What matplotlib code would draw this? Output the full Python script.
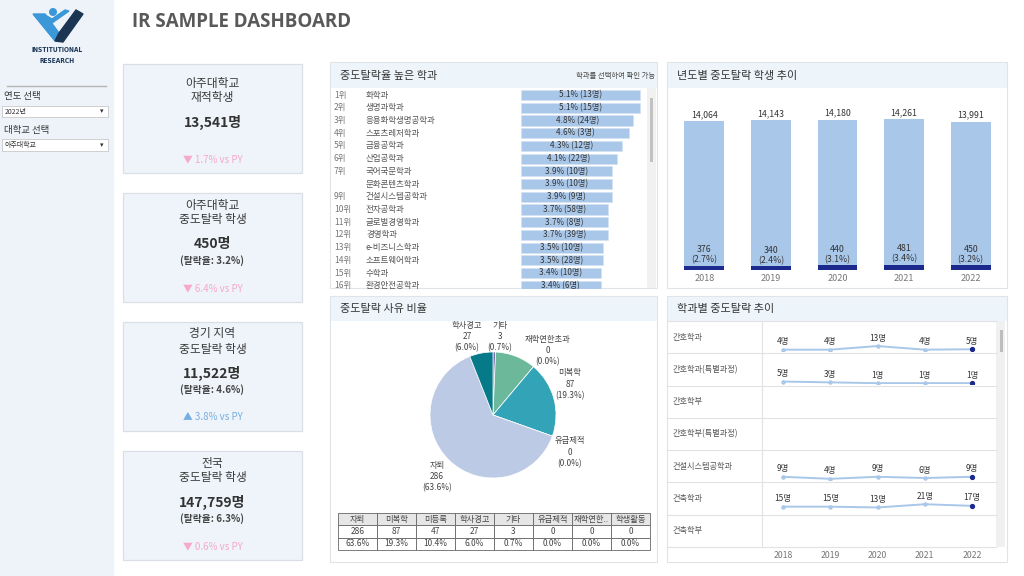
import matplotlib
matplotlib.use('Agg')
import matplotlib.pyplot as plt
from matplotlib.patches import Rectangle, Polygon, Circle

plt.rcParams['font.family'] = ['Noto Sans CJK KR', 'DejaVu Sans']

W, H = 1024, 576

# ---------------- data ----------------
kpi_titles = ['아주대학교\n재적학생', '아주대학교\n중도탈락 학생', '경기 지역\n중도탈락 학생', '전국\n중도탈락 학생']
kpi_values = ['13,541명', '450명', '11,522명', '147,759명']
kpi_rates = [None, '(탈락율: 3.2%)', '(탈락율: 4.6%)', '(탈락율: 6.3%)']
kpi_change = [-1.7, -6.4, 3.8, -0.6]

rank_labels = ['1위', '2위', '3위', '4위', '5위', '6위', '7위', '', '9위', '10위', '11위', '12위',
               '13위', '14위', '15위', '16위']
dept_names = ['화학과', '생명과학과', '응용화학생명공학과', '스포츠레저학과', '금융공학과', '산업공학과',
              '국어국문학과', '문화콘텐츠학과', '건설시스템공학과', '전자공학과', '글로벌경영학과', '경영학과',
              'e-비즈니스학과', '소프트웨어학과', '수학과', '환경안전공학과']
dept_rates = [5.1, 5.1, 4.8, 4.6, 4.3, 4.1, 3.9, 3.9, 3.9, 3.7, 3.7, 3.7, 3.5, 3.5, 3.4, 3.4]
dept_counts = [13, 15, 24, 3, 12, 22, 10, 10, 9, 58, 8, 39, 10, 28, 10, 6]

years = [2018, 2019, 2020, 2021, 2022]
total_students = [14064, 14143, 14180, 14261, 13991]
dropouts = [376, 340, 440, 481, 450]

reasons = ['자퇴', '미복학', '미등록', '학사경고', '기타', '유급제적', '재학연한초과', '학생활동']
reason_counts = [286, 87, 47, 27, 3, 0, 0, 0]
pie_order = ['기타', '미등록', '재학연한초과', '미복학', '유급제적', '자퇴', '학사경고']
pie_colors = {'기타': '#7e6aa8', '미등록': '#6cb89b', '재학연한초과': '#9ad0b5', '미복학': '#33a3b7',
              '유급제적': '#5c8fc4', '자퇴': '#bdcae5', '학사경고': '#077a8a'}
pie_labeled = ['학사경고', '기타', '재학연한초과', '미복학', '유급제적', '자퇴']

trend_depts = ['간호학과', '간호학과(특별과정)', '간호학부', '간호학부(특별과정)', '건설시스템공학과', '건축학과', '건축학부']
trend_values = [[4, 4, 13, 4, 5], [5, 3, 1, 1, 1], None, None, [9, 4, 9, 6, 9], [15, 15, 13, 21, 17], None]

# ---------------- figure ----------------
fig = plt.figure(figsize=(W / 100, H / 100), dpi=100)
fig.patch.set_facecolor('white')


def px_axes(x, y, w, h):
    a = fig.add_axes([x / W, 1 - (y + h) / H, w / W, h / H])
    a.patch.set_alpha(0)
    return a


bg = fig.add_axes([0, 0, 1, 1])
bg.set_xlim(0, W)
bg.set_ylim(H, 0)
bg.axis('off')

TXT = '#333333'
PANEL_HDR = '#eef5fa'
BORDER = '#dfe4e9'

# sidebar
bg.add_patch(Rectangle((0, 0), 113, H, color='#edf3f9', zorder=0))
# logo
bg.add_patch(Polygon([(33, 14), (45, 14), (59, 33), (55, 41)], closed=True, color='#3a97d8'))
bg.add_patch(Polygon([(55, 41), (59, 33), (76, 10), (83, 14), (63, 42)], closed=True, color='#1c3553'))
bg.add_patch(Polygon([(41, 16), (52, 23), (69, 11), (65, 10), (52, 19), (45, 15)], closed=True, color='#3a97d8'))
bg.add_patch(Circle((53, 12), 3.3, color='#3a97d8'))
bg.text(57, 50, 'INSTITUTIONAL', ha='center', va='center', fontsize=4.8, weight='bold',
        color='#1f3a5a', family='DejaVu Sans', fontstretch='condensed')
bg.text(57, 61, 'RESEARCH', ha='center', va='center', fontsize=4.8, weight='bold',
        color='#1f3a5a', family='DejaVu Sans', fontstretch='condensed')
bg.plot([7, 106], [86, 86], color='#b5b5b5', lw=1)
bg.text(4, 97, '연도 선택', fontsize=6.8, color=TXT, va='center')
bg.add_patch(Rectangle((2, 106), 106, 11, fc='white', ec='#c8c8c8', lw=0.6))
bg.text(5, 111.5, '2022년', fontsize=5, color=TXT, va='center')
bg.text(102, 111.5, '▾', fontsize=5, color='#333', va='center', ha='center', family=['DejaVu Sans'])
bg.text(4, 130, '대학교 선택', fontsize=6.8, color=TXT, va='center')
bg.add_patch(Rectangle((2, 139), 106, 12, fc='white', ec='#c8c8c8', lw=0.6))
bg.text(5, 145, '아주대학교', fontsize=5, color=TXT, va='center')
bg.text(102, 145, '▾', fontsize=5, color='#333', va='center', ha='center', family=['DejaVu Sans'])

# title
bg.text(132, 22, 'IR SAMPLE DASHBOARD', fontsize=13.5, weight='bold', color='#595959', va='center',
        family=['Open Sans', 'DejaVu Sans'])

# KPI cards
card_tops = [64, 193, 322, 451]
for i, y0 in enumerate(card_tops):
    bg.add_patch(Rectangle((123, y0), 179, 109, fc='#eef4f9', ec='#d9dfe5', lw=0.9))
    cx = 212.5
    if kpi_rates[i] is None:
        offs = [19, 33, 58, None, 95]
    else:
        offs = [12, 27, 51, 68, 95]
    l1, l2 = kpi_titles[i].split('\n')
    bg.text(cx, y0 + offs[0], l1, ha='center', va='center', fontsize=8.5, color='#3a3a3a')
    bg.text(cx, y0 + offs[1], l2, ha='center', va='center', fontsize=8.5, color='#3a3a3a')
    bg.text(cx, y0 + offs[2], kpi_values[i], ha='center', va='center', fontsize=10, weight='bold', color=TXT)
    if kpi_rates[i] is not None:
        bg.text(cx, y0 + offs[3], kpi_rates[i], ha='center', va='center', fontsize=7, weight='bold', color='#444')
    ch = kpi_change[i]
    sym = '▲' if ch > 0 else '▼'
    col = '#76aee2' if ch > 0 else '#f6a9c9'
    bg.text(cx, y0 + offs[4], f'{sym} {abs(ch):.1f}% vs PY', ha='center', va='center', fontsize=7, color=col)

# panels
panels = [(330, 62, 327, 226, 25, '중도탈락율 높은 학과'),
          (667, 62, 340, 226, 25, '년도별 중도탈락 학생 추이'),
          (330, 296, 327, 266, 24, '중도탈락 사유 비율'),
          (667, 296, 340, 266, 24, '학과별 중도탈락 추이')]
for (x, y, w, h, hh, t) in panels:
    bg.add_patch(Rectangle((x, y), w, h, fc='white', ec=BORDER, lw=0.8))
    bg.add_patch(Rectangle((x + 0.5, y + 0.5), w - 1, hh, fc=PANEL_HDR, ec='none'))
    bg.text(x + 10, y + hh / 2 + 1, t, fontsize=8, color=TXT, va='center')
bg.text(655, 76, '학과를 선택하여 확인 가능', fontsize=5.3, color='#444', va='center', ha='right')

# ---- ranking list ----
bg.add_patch(Rectangle((647, 88), 9, 200, fc='#f1f1f1', ec='none'))
bg.add_patch(Rectangle((649.5, 98), 3, 64, fc='#c2c2c2', ec='none'))
axr = px_axes(332, 88, 315, 201)
scale = 23.43
axr.set_xlim((332 - 521) / scale, (647 - 521) / scale)
row_h = 12.72
axr.set_ylim((289 - 95) / row_h, (88 - 95) / row_h)
axr.axis('off')
idx = list(range(len(dept_names)))
axr.barh(idx, dept_rates, height=0.8, color='#a9c7e9', edgecolor='#d3e2f3', lw=0.5)
for i in idx:
    axr.text((334 - 521) / scale, i, rank_labels[i], fontsize=6.1, color='#777', va='center', clip_on=True)
    axr.text((366 - 521) / scale, i, dept_names[i], fontsize=6.1, color='#555', va='center', clip_on=True)
    axr.text(dept_rates[i] / 2, i, f'{dept_rates[i]:.1f}% ({dept_counts[i]}명)', fontsize=5.9,
             color=TXT, va='center', ha='center', clip_on=True)

# ---- yearly bar chart ----
axb = px_axes(671, 95, 333, 175)
xs = list(range(len(years)))
axb.bar(xs, total_students, width=0.6, color='#a9c7e9')
axb.bar(xs, dropouts, width=0.6, color='#1b2a8c')
axb.set_xlim(-0.5, len(years) - 0.5)
axb.set_ylim(0, 16518)
for sp in axb.spines.values():
    sp.set_visible(False)
axb.set_yticks([])
axb.set_xticks(xs)
axb.set_xticklabels([str(y) for y in years], fontsize=6.5, color='#777')
axb.tick_params(axis='x', length=0, pad=3)
for i in xs:
    axb.annotate(f'{total_students[i]:,}', (i, total_students[i]), xytext=(0, 1.5), textcoords='offset points',
                 ha='center', va='bottom', fontsize=6.3, color=TXT)
    axb.annotate(f'{dropouts[i]}\n({dropouts[i] / total_students[i] * 100:.1f}%)', (i, dropouts[i]),
                 xytext=(0, 1), textcoords='offset points', ha='center', va='bottom', fontsize=6.3,
                 color=TXT, linespacing=1.15)

# ---- pie ----
axp = px_axes(393, 315, 200, 200)
pie_vals = [reason_counts[reasons.index(r)] for r in pie_order]
axp.pie(pie_vals, colors=[pie_colors[r] for r in pie_order], startangle=90, counterclock=False,
        radius=1, wedgeprops=dict(edgecolor='white', linewidth=0.5))
lim = 100 / 63
axp.set_xlim(-lim, lim)
axp.set_ylim(-lim, lim)
axp.set_aspect('equal')
axp.axis('off')
label_pos = {'학사경고': (-0.41, 1.24), '기타': (0.11, 1.24), '재학연한초과': (0.87, 1.02),
             '미복학': (1.22, 0.49), '유급제적': (1.22, -0.59), '자퇴': (-0.89, -0.98)}
total_r = sum(reason_counts)
for r in pie_labeled:
    c = reason_counts[reasons.index(r)]
    px, py = label_pos[r]
    axp.text(px, py, f'{r}\n{c}\n({c / total_r * 100:.1f}%)', ha='center', va='center', fontsize=6,
             color='#444', linespacing=1.3)

# ---- table ----
axt = px_axes(338, 513, 312, 37)
axt.axis('off')
hdrs = [r if len(r) <= 4 else r[:4] + '..' for r in reasons]
cells = [[str(c) for c in reason_counts], [f'{c / total_r * 100:.1f}%' for c in reason_counts]]
tbl = axt.table(cellText=cells, colLabels=hdrs, bbox=[0, 0, 1, 1], cellLoc='center')
tbl.auto_set_font_size(False)
for (r, c), cell in tbl.get_celld().items():
    cell.set_edgecolor('#666666')
    cell.set_linewidth(0.6)
    cell.get_text().set_fontsize(6)
    cell.get_text().set_color('#444')
    if r == 0:
        cell.set_facecolor('#e6e6e6')

# ---- trend small multiples ----
row_top0 = 321
rh = (547 - 321) / len(trend_depts)
bg.add_patch(Rectangle((996, 321), 9, 226, fc='#f0f0f0', ec='none'))
bg.add_patch(Rectangle((999.5, 330), 3, 22, fc='#bdbdbd', ec='none'))
for k in range(len(trend_depts) + 1):
    yy = row_top0 + rh * k
    bg.plot([667, 996], [yy, yy], color='#e2e2e2', lw=0.8)
bg.plot([762, 762], [321, 547], color='#e2e2e2', lw=0.8)
xl = (2018 - 21 / 47.25, 2022 + 24 / 47.25)
for k, name in enumerate(trend_depts):
    top = row_top0 + rh * k
    bg.text(673, top + rh / 2, name, fontsize=5.9, color='#555', va='center')
    vals = trend_values[k]
    if vals is None:
        continue
    ax = px_axes(762, top, 234, rh - 2)
    ax.set_xlim(*xl)
    ax.set_ylim(0, 75)
    ax.axis('off')
    ax.plot(years, vals, color='#a9c7e9', lw=1.4, marker='o', ms=2.2, mfc='#a9c7e9', mec='#a9c7e9')
    ax.plot(years[-1:], vals[-1:], 'o', ms=2.8, color='#1b2a8c')
    for yr, v in zip(years, vals):
        ax.annotate(f'{v}명', (yr, v), xytext=(0, 2.5), textcoords='offset points', ha='center',
                    va='bottom', fontsize=6, color=TXT)
axy = px_axes(762, 547, 234, 15)
axy.set_xlim(*xl)
axy.set_ylim(0, 1)
axy.axis('off')
for yr in years:
    axy.text(yr, 0.45, str(yr), ha='center', va='center', fontsize=6.3, color='#777')

fig.savefig('out.png', dpi=100)
